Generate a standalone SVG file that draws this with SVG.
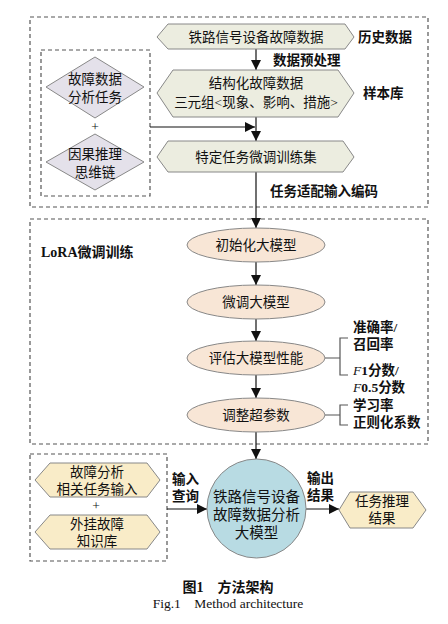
<svg xmlns="http://www.w3.org/2000/svg" width="448" height="624" viewBox="0 0 448 624">
<defs>
<marker id="ah" markerUnits="userSpaceOnUse" markerWidth="10" markerHeight="10" viewBox="0 0 10 10" refX="10" refY="5" orient="auto"><path d="M0,0 L10,5 L0,10 z" fill="#111"/></marker>
<style>
.box{fill:none;stroke:#555;stroke-width:1.2;stroke-dasharray:4,3}
.hexg{fill:#ecede0;stroke:#888;stroke-width:1}
.hexy{fill:#f9ecc8;stroke:#888;stroke-width:1}
.dia{fill:#e4e1ea;stroke:#888;stroke-width:1}
.ell{fill:#f8e6d6;stroke:#888;stroke-width:1}
.cir{fill:#b8dbe3;stroke:#888;stroke-width:1}
.t{font-family:"Liberation Serif","Noto Sans CJK SC",serif;font-size:13.5px;fill:#111;text-anchor:middle}
.lb{font-family:"Liberation Serif","Noto Sans CJK SC",serif;font-size:13.5px;font-weight:bold;fill:#111}
.ln{fill:none;stroke:#111;stroke-width:1.2}
.br{fill:none;stroke:#555;stroke-width:1.2}
</style>
</defs>
<rect width="448" height="624" fill="#fff"/>
<g id="frames">
<rect class="box" x="30" y="17" width="398" height="190"/>
<rect class="box" x="41" y="50" width="109" height="146"/>
<rect class="box" x="30" y="219" width="398" height="225"/>
<rect class="box" x="30" y="454" width="137" height="107"/>
</g>
<g id="connectors">
<line class="ln" x1="256" y1="49" x2="256" y2="70" marker-end="url(#ah)"/>
<line class="ln" x1="256" y1="117" x2="256" y2="141" marker-end="url(#ah)"/>
<line class="ln" x1="150" y1="127" x2="255" y2="127" marker-end="url(#ah)"/>
<line class="ln" x1="256" y1="172" x2="256" y2="228" marker-end="url(#ah)"/>
<line class="ln" x1="256" y1="262" x2="256" y2="285" marker-end="url(#ah)"/>
<line class="ln" x1="256" y1="319" x2="256" y2="341" marker-end="url(#ah)"/>
<line class="ln" x1="256" y1="375" x2="256" y2="398" marker-end="url(#ah)"/>
<line class="ln" x1="256" y1="432" x2="256" y2="459" marker-end="url(#ah)"/>
<line class="ln" x1="167" y1="509" x2="207" y2="509" marker-end="url(#ah)"/>
<line class="ln" x1="306" y1="509" x2="339" y2="509" marker-end="url(#ah)"/>
<path class="br" d="M325,358 H340 M348,338 H340 V375 H348"/>
<path class="br" d="M325,415 H340 M348,405 H340 V425 H348"/>
</g>
<g id="n-hist">
<polygon class="hexg" points="157,37 168,24 345,24 354,37 345,49 168,49"/>
<text class="t" x="256" y="42">铁路信号设备故障数据</text>
</g>
<g id="n-struct">
<polygon class="hexg" points="157,93 173,70 338,70 354,93 338,117 173,117"/>
<text class="t" x="256" y="88">结构化故障数据</text>
<text class="t" x="256" y="107">三元组&lt;现象、影响、措施&gt;</text>
</g>
<g id="n-train">
<polygon class="hexg" points="157,157 168,141 343,141 354,157 343,172 168,172"/>
<text class="t" x="256" y="162">特定任务微调训练集</text>
</g>
<g id="n-task">
<polygon class="dia" points="95,57 144,87 95,118 46,87"/>
<text class="t" x="95" y="84">故障数据</text>
<text class="t" x="95" y="102">分析任务</text>
</g>
<text class="t" x="95" y="131">+</text>
<g id="n-cot">
<polygon class="dia" points="95,134 144,162 95,190 46,162"/>
<text class="t" x="95" y="159">因果推理</text>
<text class="t" x="95" y="177">思维链</text>
</g>
<g id="labels-top">
<text class="lb" x="358" y="42">历史数据</text>
<text class="lb" x="273" y="65">数据预处理</text>
<text class="lb" x="363" y="98">样本库</text>
<text class="lb" x="270" y="196">任务适配输入编码</text>
<text class="lb" x="41" y="257" style="font-size:14px">LoRA微调训练</text>
</g>
<g id="n-init">
<ellipse class="ell" cx="256" cy="245" rx="69" ry="17"/>
<text class="t" x="256" y="250">初始化大模型</text>
</g>
<g id="n-ft">
<ellipse class="ell" cx="256" cy="302" rx="69" ry="17"/>
<text class="t" x="256" y="307">微调大模型</text>
</g>
<g id="n-eval">
<ellipse class="ell" cx="256" cy="358" rx="69" ry="17"/>
<text class="t" x="256" y="363">评估大模型性能</text>
</g>
<g id="n-hp">
<ellipse class="ell" cx="256" cy="415" rx="69" ry="17"/>
<text class="t" x="256" y="420">调整超参数</text>
</g>
<g id="labels-metrics">
<text class="lb" x="353" y="332">准确率/</text>
<text class="lb" x="353" y="349">召回率</text>
<text class="lb" x="353" y="375"><tspan style="font-style:italic;font-weight:normal">F</tspan>1分数/</text>
<text class="lb" x="353" y="392"><tspan style="font-style:italic;font-weight:normal">F</tspan>0.5分数</text>
<text class="lb" x="353" y="410">学习率</text>
<text class="lb" x="353" y="427">正则化系数</text>
</g>
<g id="n-input">
<polygon class="hexy" points="35,480 50,463 147,463 160,480 147,497 50,497"/>
<text class="t" x="97" y="477">故障分析</text>
<text class="t" x="97" y="494">相关任务输入</text>
</g>
<text class="t" x="96" y="510">+</text>
<g id="n-kb">
<polygon class="hexy" points="35,532 50,515 147,515 160,532 147,549 50,549"/>
<text class="t" x="97" y="529">外挂故障</text>
<text class="t" x="97" y="546">知识库</text>
</g>
<g id="n-llm">
<circle class="cir" cx="256.5" cy="508.5" r="49.5"/>
<text class="t" x="256.5" y="502" style="font-size:14.5px">铁路信号设备</text>
<text class="t" x="256.5" y="520" style="font-size:14.5px">故障数据分析</text>
<text class="t" x="256.5" y="538" style="font-size:14.5px">大模型</text>
</g>
<g id="n-out">
<polygon class="hexy" points="339,510 350,492 413,492 426,510 413,528 350,528"/>
<text class="t" x="382" y="506">任务推理</text>
<text class="t" x="382" y="523">结果</text>
</g>
<g id="labels-bottom">
<text class="lb" x="172" y="484">输入</text>
<text class="lb" x="172" y="501">查询</text>
<text class="lb" x="307" y="483">输出</text>
<text class="lb" x="307" y="500">结果</text>
</g>
<g id="caption">
<text x="228" y="592" style="font-family:'Liberation Serif','Noto Sans CJK SC',serif;font-size:14px;font-weight:bold;text-anchor:middle;fill:#111" xml:space="preserve">图1    方法架构</text>
<text x="228" y="608" style="font-family:'Liberation Serif',serif;font-size:13.5px;text-anchor:middle;fill:#111" xml:space="preserve">Fig.1    Method architecture</text>
</g>
</svg>
